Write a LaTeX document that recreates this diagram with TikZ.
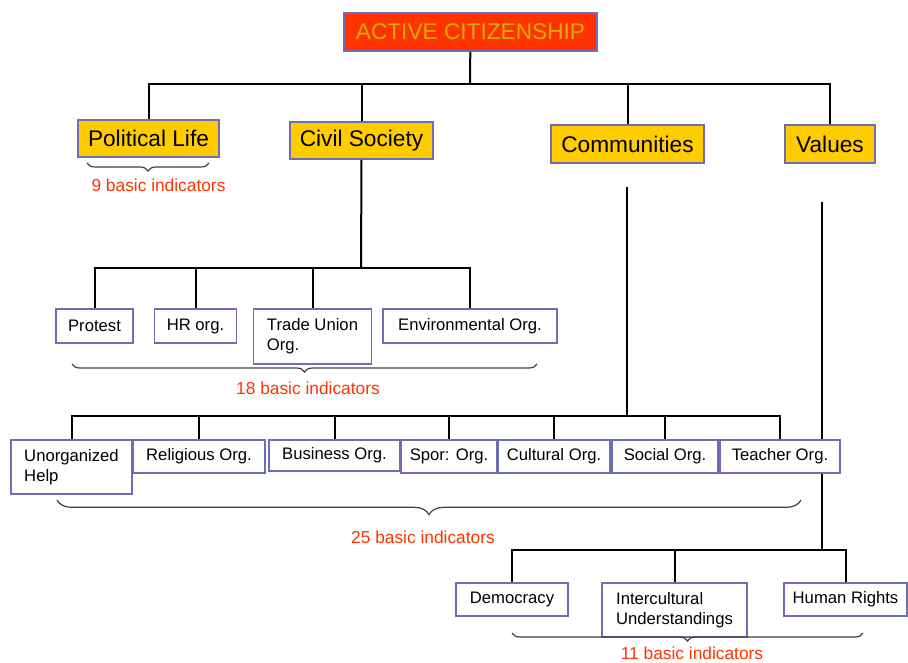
\documentclass[tikz,border=0pt]{standalone}
\usepackage{fontspec}
\setmainfont{Liberation Sans}
\usetikzlibrary{decorations.pathreplacing}
\definecolor{boxred}{RGB}{255,51,0}
\definecolor{boxgold}{RGB}{255,204,0}
\definecolor{boxedge}{RGB}{110,110,180}
\definecolor{notered}{RGB}{255,51,0}

\begin{document}
\begin{tikzpicture}[x=0.75pt,y=-0.75pt,
  head/.style={draw=boxedge,line width=1.2pt,fill=boxred,text=boxgold!85!black,inner sep=0pt,font=\fontsize{17}{20}\selectfont},
  area/.style={draw=boxedge,line width=1.2pt,fill=boxgold,inner sep=0pt,font=\fontsize{17}{20}\selectfont},
  leaf/.style={draw=boxedge,line width=1.2pt,fill=white,inner sep=0pt,align=left,font=\fontsize{12.5}{15}\selectfont},
  link/.style={line width=1.5pt},
  curly/.style={decorate,decoration={brace,mirror,amplitude=#1},line width=0.9pt,draw=black!75},
  curly/.default=6pt,
  note/.style={text=notered,font=\fontsize{13}{15}\selectfont}]
\useasboundingbox (0,0) rectangle (908,663);
\coordinate (b0) at (470,84);
\coordinate (b1) at (361,268);
\coordinate (c0) at (627,187);
\coordinate (b2) at (627,416);
\coordinate (v0) at (822,202);
\coordinate (b3) at (822,550);
\draw[link] (v0) -- (b3);
\node[head,minimum width=189.75pt,minimum height=28.5pt] (root) at (470.5,32) {ACTIVE CITIZENSHIP};
\node[area,minimum width=105.75pt,minimum height=27.75pt] (pol) at (148.5,138.5) {Political Life};
\node[area,minimum width=107.25pt,minimum height=27.75pt] (civ) at (361.5,140.5) {Civil Society};
\node[area,minimum width=114.75pt,minimum height=28.5pt] (com) at (627.5,144) {Communities};
\node[area,minimum width=67.5pt,minimum height=28.5pt] (val) at (830,144) {Values};
\node[leaf,minimum width=57.75pt,minimum height=25.5pt] (prot) at (94.5,326) {Protest};
\node[leaf,minimum width=61.5pt,minimum height=25.5pt] (hr) at (195.5,326) {HR org.};
\node[leaf,minimum width=88.5pt,minimum height=41.25pt] (tu) at (312.5,336.5) {Trade Union\\ Org.};
\node[leaf,minimum width=130.5pt,minimum height=25.5pt] (env) at (470,326) {Environmental Org.};
\node[leaf,minimum width=90.75pt,minimum height=40.5pt] (unorg) at (71.5,467) {Unorganized\\ Help};
\node[leaf,minimum width=99pt,minimum height=24.75pt] (rel) at (199,456.5) {Religious Org.};
\node[leaf,minimum width=98.25pt,minimum height=23.25pt] (bus) at (334.5,455.5) {Business Org.};
\node[leaf,minimum width=72pt,minimum height=24.75pt] (spor) at (449,456.5) {Spor: Org.};
\node[leaf,minimum width=84pt,minimum height=24.75pt] (cult) at (554,456.5) {Cultural Org.};
\node[leaf,minimum width=79.5pt,minimum height=24.75pt] (soc) at (665,456.5) {Social Org.};
\node[leaf,minimum width=90pt,minimum height=24.75pt] (teach) at (780,456.5) {Teacher Org.};
\node[leaf,minimum width=84pt,minimum height=24.75pt] (dem) at (512,599.5) {Democracy};
\node[leaf,minimum width=108.75pt,minimum height=40.5pt] (inter) at (674.5,610) {Intercultural\\Understandings};
\node[leaf,minimum width=92.25pt,minimum height=24.75pt] (hum) at (845.5,599.5) {Human Rights};
\draw[link] (root) -- (b0);
\draw[link] (pol.north) |- (b0) -| (val.north);
\draw[link] (civ.north) -- (civ.north |- b0);
\draw[link] (com.north) -- (com.north |- b0);
\draw[link] (civ.south) -- (b1);
\draw[link] (prot.north) |- (b1) -| (env.north);
\draw[link] (hr.north) -- (hr.north |- b1);
\draw[link] (tu.north) -- (tu.north |- b1);
\draw[link] (c0) -- (b2);
\draw[link] (unorg.north) |- (b2) -| (teach.north);
\draw[link] (rel.north) -- (rel.north |- b2);
\draw[link] (bus.north) -- (bus.north |- b2);
\draw[link] (spor.north) -- (spor.north |- b2);
\draw[link] (cult.north) -- (cult.north |- b2);
\draw[link] (soc.north) -- (soc.north |- b2);
\draw[link] (dem.north) |- (b3) -| (hum.north);
\draw[link] (inter.north) -- (inter.north |- b3);
\draw[curly] (87,163) -- (209,163);
\node[note] (n9) at (158.5,185) {9 basic indicators};
\draw[curly] (72,364) -- (537,364);
\node[note] (n18) at (308,388) {18 basic indicators};
\draw[curly=11pt] (57,500) -- (801,500);
\node[note] (n25) at (423,537) {25 basic indicators};
\draw[curly=6pt] (512,633) -- (863,633);
\node[note] (n11) at (692,653) {11 basic indicators};
\end{tikzpicture}
\end{document}
